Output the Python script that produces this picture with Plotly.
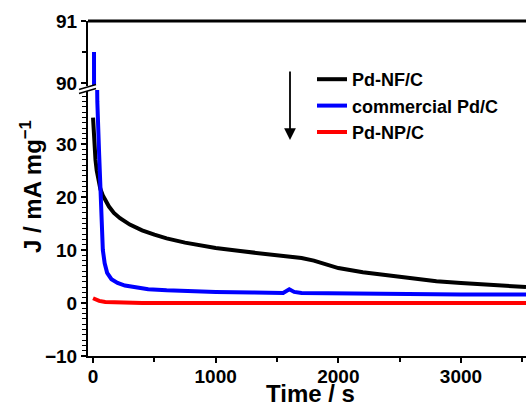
import plotly.graph_objects as go

# chronoamperometry curves
t_nf = [0, 10, 20, 30, 45, 60, 80, 100, 130, 170, 220, 300, 400, 500, 600, 750, 900, 1000,
        1200, 1400, 1600, 1700, 1800, 1900, 2000, 2200, 2400, 2600, 2800, 3000, 3200, 3400, 3530]
j_nf = [35, 30, 27, 25, 23, 21.5, 20.3, 19.3, 18.2, 17, 16, 14.8, 13.7, 12.9, 12.2, 11.4, 10.8, 10.4,
        9.8, 9.3, 8.8, 8.5, 8.0, 7.3, 6.6, 5.8, 5.2, 4.6, 4.1, 3.8, 3.5, 3.2, 3.0]

t_com = [8, 20, 35, 50, 60, 70, 80, 95, 115, 150, 200, 260, 330, 450, 600, 800, 1000,
         1300, 1550, 1600, 1640, 1700, 2000, 2500, 3000, 3530]
j_com = [90.5, 60, 38, 28, 22, 15, 10, 7.5, 5.7, 4.5, 3.8, 3.3, 3.0, 2.6, 2.4, 2.2, 2.1,
         2.0, 1.9, 2.6, 2.1, 1.9, 1.8, 1.7, 1.6, 1.6]

t_np = [0, 20, 50, 100, 200, 400, 1000, 2000, 3530]
j_np = [0.9, 0.7, 0.4, 0.2, 0.1, 0.0, 0.0, 0.0, 0.0]

names = ["Pd-NF/C", "commercial Pd/C", "Pd-NP/C"]
colors = ["black", "blue", "red"]
low_ticks = [-10, 0, 10, 20, 30]

FONT = "Arial, Liberation Sans, sans-serif"

fig = go.Figure()
series = [(t_nf, j_nf), (t_com, j_com), (t_np, j_np)]
for (t, j), name, c in zip(series, names, colors):
    fig.add_trace(go.Scatter(x=t, y=j, mode="lines", name=name,
                             line=dict(color=c, width=4), yaxis="y"))
# same data again on the upper (broken) segment
for (t, j), name, c in zip(series, names, colors):
    fig.add_trace(go.Scatter(x=t, y=j, mode="lines", name=name, showlegend=False,
                             line=dict(color=c, width=4), yaxis="y2"))

# pixel -> paper helpers (plot area 88..526 x 21..356)
def px(x):
    return (x - 88) / 438


def py(y):
    return (356 - y) / 335


tickfont = dict(family=FONT, size=19, color="black", weight="bold")

fig.update_layout(
    width=526, height=404,
    margin=dict(l=88, r=0, t=21, b=48),
    paper_bgcolor="white", plot_bgcolor="white",
    showlegend=True,
    legend=dict(x=px(312), y=py(61), xanchor="left", yanchor="top",
                bgcolor="rgba(0,0,0,0)", font=dict(family=FONT, size=18, color="black", weight="bold"),
                tracegroupgap=0, itemwidth=30),
    xaxis=dict(range=[-41, 3530], anchor="y", showline=True, linecolor="black", linewidth=2,
               ticks="outside", ticklen=5, tickwidth=2, tickcolor="black", dtick=1000,
               minor=dict(dtick=500, ticks="outside", ticklen=4, tickwidth=2, tickcolor="black"),
               showgrid=False, zeroline=False, tickfont=tickfont, automargin=False,
               ticklabelstandoff=-3),
    yaxis=dict(domain=[0, 0.794], range=[-10, 40.2], showline=True, linecolor="black", linewidth=2,
               ticks="outside", ticklen=5, tickwidth=2, tickcolor="black", tickvals=low_ticks,
               minor=dict(dtick=1, ticks="outside", ticklen=4, tickwidth=1, tickcolor="black"),
               showgrid=False, zeroline=False, tickfont=tickfont, automargin=False),
    yaxis2=dict(domain=[0.806, 1], range=[89.95, 91], anchor="x", showline=True, linecolor="black",
                linewidth=2, ticks="outside", ticklen=5, tickwidth=2, tickcolor="black", dtick=1,
                minor=dict(dtick=0.5, ticks="outside", ticklen=4, tickwidth=2, tickcolor="black"),
                showgrid=False, zeroline=False, tickfont=tickfont, automargin=False),
)

# axis titles
fig.add_annotation(text="J / mA mg<sup>\u22121</sup>", xref="paper", yref="paper",
                   x=px(31), y=py(187), xanchor="center", yanchor="middle", textangle=-90,
                   showarrow=False, font=dict(family=FONT, size=24, color="black", weight="bold"))
fig.add_annotation(text="Time / s", xref="paper", yref="paper", x=px(310), y=py(393),
                   xanchor="center", yanchor="middle", showarrow=False,
                   font=dict(family=FONT, size=24, color="black", weight="bold"))

# downward arrow beside the legend
fig.add_annotation(x=px(290), y=py(140), xref="paper", yref="paper", ax=0, ay=-70,
                   showarrow=True, arrowhead=2, arrowsize=1.3, arrowwidth=1.8, arrowcolor="black", text="")

# top frame line
fig.add_shape(type="line", xref="paper", yref="paper", x0=0, x1=1, y0=1, y1=1,
              line=dict(color="black", width=3))

# axis break marks
fig.add_shape(type="path", xref="paper", yref="paper",
              path=f"M {px(79)},{py(89.5)} L {px(96)},{py(84.5)} L {px(96)},{py(88.5)} L {px(79)},{py(93.5)} Z",
              fillcolor="white", line=dict(width=0))
for off in (0, 4):
    fig.add_shape(type="line", xref="paper", yref="paper",
                  x0=px(79), y0=py(89.5 + off), x1=px(96), y1=py(84.5 + off),
                  line=dict(color="black", width=1.5))

fig.write_html("out.html", config={"displayModeBar": False},
               post_script="document.body.style.margin='0';")
